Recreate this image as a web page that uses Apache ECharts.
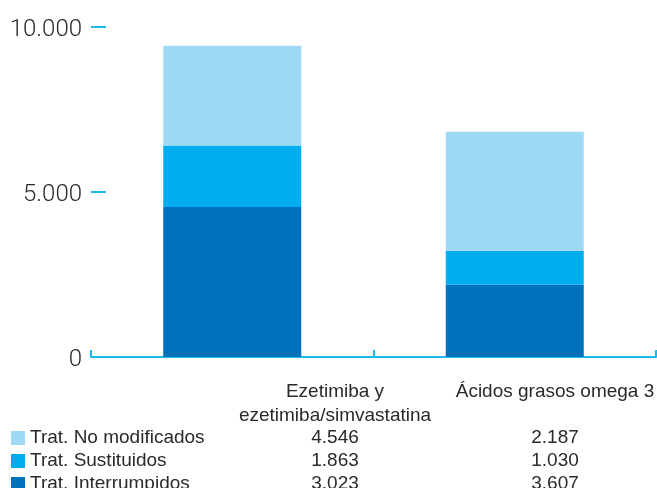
<!DOCTYPE html>
<html>
<head>
<meta charset="utf-8">
<script src="https://cdn.jsdelivr.net/npm/echarts@6/dist/echarts.min.js"></script>
<style>
  html, body { margin: 0; padding: 0; background: #fff; }
  #chart { width: 657px; height: 488px; }
</style>
</head>
<body>
<div id="chart"></div>
<script>
const categories = ["Ezetimiba y\nezetimiba/simvastatina", "Ácidos grasos omega 3"];
const rowNames = ["Trat. No modificados", "Trat. Sustituidos", "Trat. Interrumpidos"];
const noModificados = [4546, 2187];
const sustituidos = [1863, 1030];
const interrumpidos = [3023, 3607];
const yTicks = [0, 5000, 10000];

const LIGHT = "#9edaf6";
const MEDIUM = "#00aeef";
const DARK = "#0071bb";
const AXIS = "#1fb9ec";
const TEXT = "#2a2a2a";

// the picture stacks the first table row at the bottom in dark blue,
// while the table swatches go light -> dark; kept as drawn
const rows = [noModificados, sustituidos, interrumpidos];
const barColors = [DARK, MEDIUM, LIGHT];
const swatchColors = [LIGHT, MEDIUM, DARK];

function fmt(n) {
  return String(n).replace(/\B(?=(\d{3})+(?!\d))/g, ".");
}

const chart = echarts.init(document.getElementById("chart"), null, { renderer: "canvas" });

const colX = [335, 555];
const headerY = [392, 416];
const rowY = [438, 461, 484];
const tableFont = '19px "Liberation Sans", Arial, sans-serif';

const graphic = [];
categories.forEach((name, c) => {
  name.split("\n").forEach((line, i) => {
    graphic.push({
      type: "text", x: colX[c], y: headerY[i],
      style: { text: line, font: tableFont, fill: TEXT, align: "center", verticalAlign: "middle" },
    });
  });
});
rowNames.forEach((name, r) => {
  graphic.push({
    type: "rect", shape: { x: 11, y: rowY[r] - 7, width: 14, height: 14 },
    style: { fill: swatchColors[r] },
  });
  graphic.push({
    type: "text", x: 30, y: rowY[r],
    style: { text: name, font: tableFont, fill: TEXT, align: "left", verticalAlign: "middle" },
  });
  rows[r].forEach((v, c) => {
    graphic.push({
      type: "text", x: colX[c], y: rowY[r],
      style: { text: fmt(v), font: tableFont, fill: TEXT, align: "center", verticalAlign: "middle" },
    });
  });
});

chart.setOption({
  animation: false,
  grid: { left: 91, right: 1, top: 27, bottom: 131, containLabel: false },
  xAxis: {
    type: "category",
    data: categories,
    axisLine: { lineStyle: { color: AXIS, width: 2 } },
    axisTick: { show: true, inside: true, length: 7, lineStyle: { color: AXIS, width: 2 } },
    axisLabel: { show: false },
  },
  yAxis: {
    type: "value",
    min: yTicks[0],
    max: yTicks[yTicks.length - 1],
    interval: yTicks[1] - yTicks[0],
    splitLine: { show: false },
    axisLine: { show: false },
    axisTick: { show: true, inside: true, length: 15, lineStyle: { color: AXIS, width: 2 } },
    axisLabel: {
      margin: 9,
      formatter: (v) => "{n|" + fmt(v) + "}",
      rich: {
        n: {
          color: TEXT,
          fontFamily: "Roboto",
          fontWeight: 300,
          fontSize: 24,
          padding: [6, 0, 0, 0],
        },
      },
    },
  },
  series: rows.map((data, r) => ({
    type: "bar",
    name: rowNames[r],
    stack: "total",
    barWidth: 138,
    data: data,
    itemStyle: { color: barColors[r] },
    z: 1,
  })),
  graphic: graphic,
});
</script>
</body>
</html>
